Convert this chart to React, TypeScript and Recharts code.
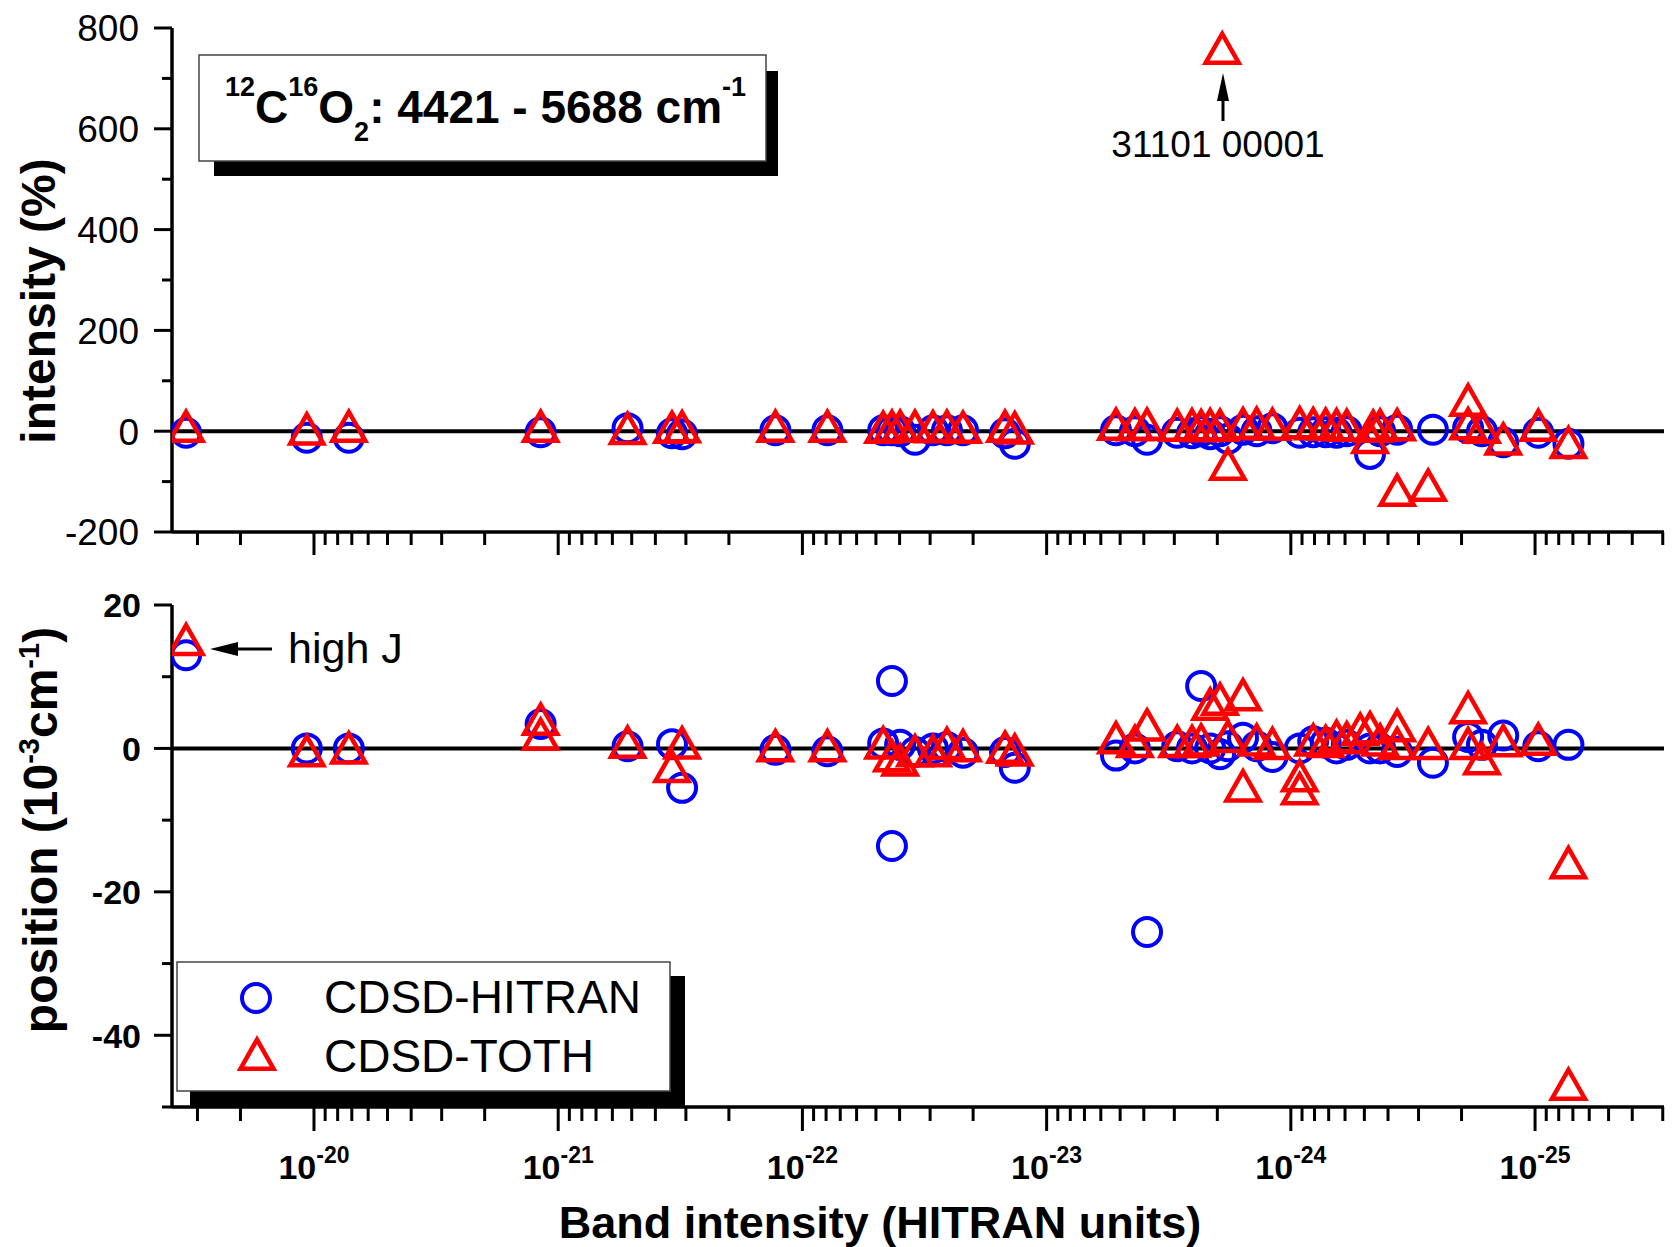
import React from 'react';
import { ScatterChart, Scatter, XAxis, YAxis, ReferenceLine } from 'recharts';

const FONT = '"Liberation Sans", Arial, Helvetica, sans-serif';

// Band intensities (HITRAN units) of the compared bands
const bandIntensity = [
  3.34e-20, 1.07e-20, 7.2e-21, 1.18e-21, 5.2e-22, 3.42e-22, 3.11e-22, 1.29e-22, 7.9e-23, 4.67e-23,
  4.3e-23, 3.98e-23, 3.46e-23, 2.92e-23, 2.56e-23, 2.2e-23, 1.48e-23, 1.35e-23, 5.2e-24, 4.35e-24,
  3.88e-24, 2.92e-24, 2.54e-24, 2.33e-24, 2.14e-24, 1.95e-24, 1.81e-24, 1.57e-24, 1.38e-24, 1.19e-24,
  9.2e-25, 8.1e-25, 7.2e-25, 6.5e-25, 5.9e-25, 4.74e-25, 4.31e-25, 3.67e-25, 2.74e-25, 2.62e-25,
  1.88e-25, 1.65e-25, 1.35e-25, 9.7e-26, 7.3e-26,
];

// Intensity deviation (%)
const intensityHitran: (number | null)[] = [
  -3, -13, -13, -2, 6, -4, -6, 2, 2, 2,
  2, 0, -17, 2, 2, 2, -4, -25, 2, 0,
  -17, -3, -4, 0, -6, 0, -15, 3, 0, 6,
  -3, -2, -2, -3, 0, -45, 0, 3, null, 3,
  6, 0, -22, -3, -25,
];
const intensityToth: (number | null)[] = [
  0, -5, 0, 0, -4, -2, -1, 0, 0, -2,
  0, 0, 0, -1, 0, -2, 0, -3, 4, 3,
  4, 2, 3, 1, 3, 2, -75, 5, 6, 4,
  7, 5, 4, 3, 2, -22, 2, -127, -117, null,
  52, -2, -25, 2, -32,
];
// Position deviation (10^-3 cm-1)
const positionHitran: (number | null)[] = [
  13, 0, 0, 3.4, 0.3, 0.6, -5.5, -0.2, -0.4, 0.7,
  9.4, 0.5, -0.5, 0, 0.2, -0.6, -0.5, -2.7, -1.0, 0,
  -25.6, 0.3, 0, 8.7, 0, -0.8, 0.3, 1.5, 0.3, -1.2,
  0, 1.0, 0.8, 0, 0.5, 0, 0, -0.5, null, -2,
  1.6, 0.5, 1.8, 0.3, 0.5,
];
const positionToth: (number | null)[] = [
  14.5, -1, -0.6, 3.4, 0.2, -3.2, 0.1, -0.3, -0.3, 0.1,
  -1.7, -2.3, -1, -1, 0, -0.3, -0.5, -0.9, 0.8, 0.3,
  2.6, 0.3, 0.3, 0.5, 5.5, 6.2, 1.0, 6.8, 0.5, 0,
  -4.5, 0.5, 0.3, 1, 0.8, 2.2, 0.5, 2.5, 0, null,
  5.0, -2.1, 0.4, 0.6, -16.6,
];

// Additional bands sharing an intensity with another one: [intensity, deviation]
const extraIntensityToth: [number, number][] = [
  [1.91e-24, 750], [1.88e-25, 5], [3.67e-25, 3], [4.6e-25, 0],
];
const extraPositionHitran: [number, number][] = [[4.3e-23, -13.6]];
const extraPositionToth: [number, number][] = [
  [1.18e-21, 1.3], [1.57e-24, -5.9], [9.2e-25, -6.3], [3.67e-25, 0], [1.88e-25, 0],
  [5.2e-25, 2.0], [7.3e-26, -47.5],
];

const decadeExponents = [-26, -25, -24, -23, -22, -21, -20];
const tickMantissas = [1, 2, 3, 4, 5, 6, 7, 8, 9];
const xDomain: [number, number] = [2.965e-26, 3.814e-20];

const intensityMajorTicks = [-200, 0, 200, 400, 600, 800];
const intensityMinorTicks = [-100, 100, 300, 500, 700];
const positionMajorTicks = [-40, -20, 0, 20];
const positionMinorTicks = [-50, -30, -10, 10];

const legendLabels = ['CDSD-HITRAN', 'CDSD-TOTH'];
const xTitle = 'Band intensity (HITRAN units)';

const xTicks: number[] = [];
decadeExponents.forEach((e) => {
  tickMantissas.forEach((m) => {
    const v = Number((m * Math.pow(10, e)).toPrecision(4));
    if (v >= xDomain[0] && v <= xDomain[1]) xTicks.push(v);
  });
});

const toPoints = (vals: (number | null)[], extra: [number, number][] = []) =>
  bandIntensity
    .map((s, i) => ({ x: s, y: vals[i] }))
    .filter((p) => p.y !== null)
    .concat(extra.map(([x, y]) => ({ x, y })));

const CircleMark = (p: any) => (
  <circle cx={p.cx} cy={p.cy} r={14} fill="none" stroke="#0000ff" strokeWidth={4} />
);
const TW = 33;
const TH = 29;
const TriangleMark = (p: any) => {
  const { cx, cy } = p;
  return (
    <path
      d={`M${cx},${cy - (2 * TH) / 3} L${cx + TW / 2},${cy + TH / 3} L${cx - TW / 2},${cy + TH / 3} Z`}
      fill="none"
      stroke="#ff0000"
      strokeWidth={4.5}
      strokeLinejoin="miter"
    />
  );
};

const makeXTick = (showLabel: boolean, majorLen: number, minorLen: number) => (props: any) => {
  const { x, y, payload } = props;
  const v = payload.value;
  const lg = Math.log10(v);
  const exp = Math.round(lg);
  const major = Math.abs(lg - exp) < 1e-6;
  const len = major ? majorLen : minorLen;
  return (
    <g>
      <line x1={x} y1={y} x2={x} y2={y + len} stroke="#000" strokeWidth={3} />
      {showLabel && major && (
        <text x={x} y={y + 72} textAnchor="middle" fontFamily={FONT} fontWeight="bold" fontSize={34} fill="#000">
          10
          <tspan dy={-16} fontSize={23}>{String(exp)}</tspan>
        </text>
      )}
    </g>
  );
};

const makeYTick = (majors: number[], bold: boolean, fontSize: number, gap: number) => (props: any) => {
  const { x, y, payload } = props;
  const v = payload.value;
  const major = majors.includes(v);
  const len = major ? 18 : 10;
  return (
    <g>
      <line x1={x - len} y1={y} x2={x} y2={y} stroke="#000" strokeWidth={3} />
      {major && (
        <text
          x={x - gap}
          y={y}
          dy="0.36em"
          textAnchor="end"
          fontFamily={FONT}
          fontWeight={bold ? 'bold' : 'normal'}
          fontSize={fontSize}
          fill="#000"
        >
          {String(v)}
        </text>
      )}
    </g>
  );
};

const axisLine = { stroke: '#000', strokeWidth: 3.5 };

export default function App() {
  const topHitran = toPoints(intensityHitran);
  const topToth = toPoints(intensityToth, extraIntensityToth);
  const botHitran = toPoints(positionHitran, extraPositionHitran);
  const botToth = toPoints(positionToth, extraPositionToth);

  return (
    <div style={{ position: 'absolute', left: 0, top: 0, width: 1679, height: 1247, background: '#fff', overflow: 'hidden' }}>
      <div style={{ position: 'absolute', left: 0, top: 0 }}>
        <ScatterChart width={1679} height={560} margin={{ top: 28, right: 15, bottom: 0, left: 0 }}>
          <XAxis
            dataKey="x"
            type="number"
            scale="log"
            domain={xDomain}
            allowDataOverflow
            reversed
            ticks={xTicks}
            interval={0}
            tickSize={0}
            tickMargin={0}
            tickLine={false}
            axisLine={axisLine}
            height={28}
            tick={makeXTick(false, 23, 13)}
          />
          <YAxis
            dataKey="y"
            type="number"
            domain={[-200, 800]}
            allowDataOverflow
            ticks={[...intensityMajorTicks, ...intensityMinorTicks].sort((a, b) => a - b)}
            interval={0}
            tickSize={0}
            tickMargin={0}
            tickLine={false}
            axisLine={axisLine}
            width={172}
            tick={makeYTick(intensityMajorTicks, false, 37, 33)}
          />
          <ReferenceLine y={0} stroke="#000" strokeWidth={4} />
          <Scatter data={topHitran} shape={CircleMark} isAnimationActive={false} />
          <Scatter data={topToth} shape={TriangleMark} isAnimationActive={false} />
        </ScatterChart>
      </div>
      <div style={{ position: 'absolute', left: 0, top: 560 }}>
        <ScatterChart width={1679} height={687} margin={{ top: 45, right: 15, bottom: 0, left: 0 }}>
          <XAxis
            dataKey="x"
            type="number"
            scale="log"
            domain={xDomain}
            allowDataOverflow
            reversed
            ticks={xTicks}
            interval={0}
            tickSize={0}
            tickMargin={0}
            tickLine={false}
            axisLine={axisLine}
            height={140}
            tick={makeXTick(true, 24, 14)}
          />
          <YAxis
            dataKey="y"
            type="number"
            domain={[-50, 20]}
            allowDataOverflow
            ticks={[...positionMajorTicks, ...positionMinorTicks].sort((a, b) => a - b)}
            interval={0}
            tickSize={0}
            tickMargin={0}
            tickLine={false}
            axisLine={axisLine}
            width={172}
            tick={makeYTick(positionMajorTicks, true, 34, 31)}
          />
          <ReferenceLine y={0} stroke="#000" strokeWidth={4} />
          <Scatter data={botHitran} shape={CircleMark} isAnimationActive={false} />
          <Scatter data={botToth} shape={TriangleMark} isAnimationActive={false} />
        </ScatterChart>
      </div>
      <svg
        width={1679}
        height={1247}
        style={{ position: 'absolute', left: 0, top: 0, pointerEvents: 'none' }}
        fontFamily={FONT}
      >
        {/* title box */}
        <rect x={214} y={71} width={564} height={105} fill="#000" />
        <rect x={199} y={55} width={567} height={106} fill="#fff" stroke="#444" strokeWidth={1.5} />
        <text x={225} y={123} fontWeight="bold" fontSize={46} fill="#000">
          <tspan fontSize={27} y={96}>12</tspan>
          <tspan y={123}>C</tspan>
          <tspan fontSize={27} y={96}>16</tspan>
          <tspan y={123}>O</tspan>
          <tspan fontSize={27} y={141}>2</tspan>
          <tspan y={123}>{': 4421 - 5688 cm'}</tspan>
          <tspan fontSize={27} y={96}>-1</tspan>
        </text>

        {/* annotation 31101 00001 */}
        <line x1={1223} y1={121} x2={1223} y2={96} stroke="#000" strokeWidth={3} />
        <path d="M1223,73 L1229,101 L1217,101 Z" fill="#000" />
        <text x={1218} y={157} textAnchor="middle" fontSize={37} fill="#000">31101 00001</text>

        {/* annotation high J */}
        <line x1={272} y1={649} x2={232} y2={649} stroke="#000" strokeWidth={3} />
        <path d="M210,649 L238,642 L238,656 Z" fill="#000" />
        <text x={288} y={663} fontSize={43} fill="#000">high J</text>

        {/* legend */}
        <rect x={190} y={976} width={495} height={131} fill="#000" />
        <rect x={177} y={962} width={493} height={129} fill="#fff" stroke="#444" strokeWidth={1.5} />
        <CircleMark cx={256} cy={998} />
        <TriangleMark cx={257} cy={1059} />
        <text x={324} y={1013} fontSize={46} fill="#000">{legendLabels[0]}</text>
        <text x={324} y={1072} fontSize={46} fill="#000">{legendLabels[1]}</text>

        {/* axis titles */}
        <text transform="translate(55,301) rotate(-90)" textAnchor="middle" fontWeight="bold" fontSize={48} fill="#000">
          intensity (%)
        </text>
        <text transform="translate(57,830) rotate(-90)" textAnchor="middle" fontWeight="bold" fontSize={48} fill="#000">
          {'position (10'}
          <tspan dy={-18} fontSize={29}>-3</tspan>
          <tspan dy={18}>cm</tspan>
          <tspan dy={-18} fontSize={29}>-1</tspan>
          <tspan dy={18}>)</tspan>
        </text>
        <text x={880} y={1238} textAnchor="middle" fontWeight="bold" fontSize={45} fill="#000">
          {xTitle}
        </text>
      </svg>
    </div>
  );
}
